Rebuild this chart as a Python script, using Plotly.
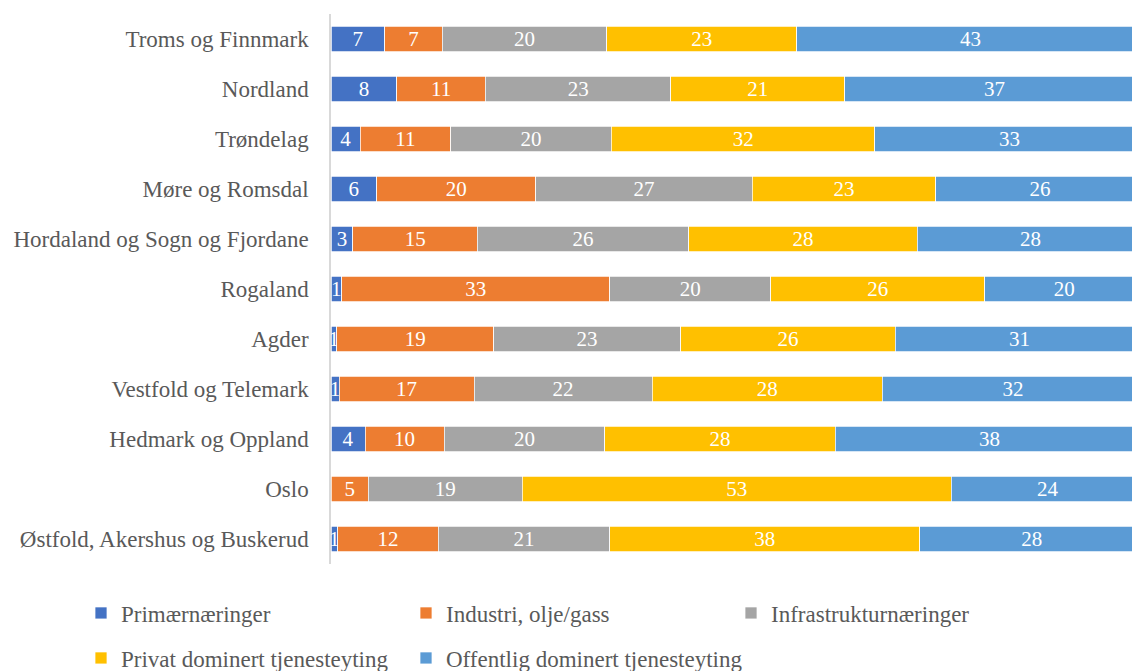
import plotly.graph_objects as go

regions = [
    "Troms og Finnmark",
    "Nordland",
    "Trøndelag",
    "Møre og Romsdal",
    "Hordaland og Sogn og Fjordane",
    "Rogaland",
    "Agder",
    "Vestfold og Telemark",
    "Hedmark og Oppland",
    "Oslo",
    "Østfold, Akershus og Buskerud",
]

series_names = [
    "Primærnæringer",
    "Industri, olje/gass",
    "Infrastrukturnæringer",
    "Privat dominert tjenesteyting",
    "Offentlig dominert tjenesteyting",
]

primaer    = [6.6, 8.1, 3.6, 5.6, 2.7, 1.3, 0.7, 1.0, 4.2, 0.0, 0.8]
industri   = [7.1, 10.9, 11.1, 19.6, 15.3, 33.0, 19.3, 16.6, 9.7, 4.6, 12.4]
infra      = [20.2, 22.8, 19.8, 26.6, 26.0, 19.8, 23.0, 21.9, 19.8, 18.9, 21.1]
privat     = [23.4, 21.4, 32.4, 22.6, 28.1, 26.3, 26.4, 28.3, 28.3, 52.8, 38.1]
offentlig  = [42.7, 36.8, 33.1, 25.6, 27.9, 19.6, 30.6, 32.2, 38.0, 23.7, 27.6]

colors = ["#4472C4", "#ED7D31", "#A5A5A5", "#FFC000", "#5B9BD5"]

all_series = [primaer, industri, infra, privat, offentlig]

FONT = "Liberation Serif"
GREY = "#595959"

# page has an 8px body margin, so the figure is offset by (8, 8)
OFF = 8
W, H = 1140 - OFF, 671 - OFF
left = 331 - OFF
top = 14 - OFF
plot_h = 550
px_per_unit = 8.13

# legend item positions (text-left x, row centre y) in page pixels
legend_pos = [(121, 613), (446, 613), (771, 613), (121, 658), (446, 658)]
legend_keys = ["legend", "legend2", "legend3", "legend4", "legend5"]

fig = go.Figure()
for i, (name, vals, col) in enumerate(zip(series_names, all_series, colors)):
    labels = [str(int(round(v))) if v > 0 else "" for v in vals]
    fig.add_trace(go.Bar(
        y=regions,
        x=vals,
        name=name,
        orientation="h",
        marker=dict(color=col, line=dict(color="white", width=0.75)),
        text=labels,
        texttemplate="%{text}",
        textposition="inside",
        insidetextanchor="middle",
        textangle=0,
        constraintext="none",
        textfont=dict(family=FONT, size=21, color="white"),
        legend=legend_keys[i],
        showlegend=True,
        hoverinfo="x+y+name",
    ))

layout_legends = {}
for key, (tx, ty) in zip(legend_keys, legend_pos):
    layout_legends[key] = dict(
        orientation="h",
        xref="container",
        yref="container",
        x=(tx - OFF - 40) / W,
        y=1 - (ty - OFF) / H,
        xanchor="left",
        yanchor="middle",
        itemwidth=30,
        font=dict(family=FONT, size=23, color=GREY),
        bgcolor="rgba(0,0,0,0)",
    )

fig.update_layout(
    width=W,
    height=H,
    showlegend=True,
    barmode="stack",
    bargap=0.486,
    plot_bgcolor="white",
    paper_bgcolor="white",
    margin=dict(l=left, r=0, t=top, b=H - top - plot_h, pad=0, autoexpand=False),
    font=dict(family=FONT, size=23, color=GREY),
    uniformtext=dict(mode="show", minsize=21),
    xaxis=dict(
        range=[0, (W - left) / px_per_unit],
        showgrid=False,
        zeroline=False,
        showticklabels=False,
        showline=False,
        fixedrange=True,
        automargin=False,
    ),
    yaxis=dict(
        categoryorder="array",
        categoryarray=regions,
        autorange="reversed",
        showgrid=False,
        zeroline=False,
        showline=True,
        linecolor="#D9D9D9",
        linewidth=1.5,
        ticks="outside",
        ticklen=16,
        tickcolor="rgba(0,0,0,0)",
        tickfont=dict(family=FONT, size=23, color=GREY),
        automargin=False,
    ),
    **layout_legends,
)

fig.write_html("out.html")
